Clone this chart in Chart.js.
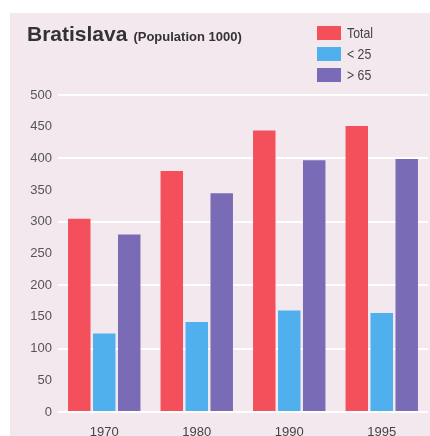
<!DOCTYPE html>
<html><head><meta charset="utf-8">
<script src="https://cdn.jsdelivr.net/npm/chart.js@4"></script>
<style>
html,body{margin:0;padding:0;background:#fff;}
#wrap{position:relative;width:430px;height:436px;overflow:hidden;}
#panel{position:absolute;left:10px;top:13px;width:420px;height:423px;background:#f4e8ef;}
#c{position:absolute;left:0;top:0;}
#title{position:absolute;left:27px;top:22px;font-family:"Liberation Sans",Arial,sans-serif;font-weight:bold;color:#333;white-space:nowrap;}
#title .big{font-size:21px;}
#title .small{font-size:13px;margin-left:6px;}
#legend{position:absolute;left:317px;top:26px;font-family:"Liberation Sans",Arial,sans-serif;font-size:15px;color:#444;}
.li{position:absolute;left:0;height:14px;white-space:nowrap;}
.li .box{position:absolute;left:0;top:0;width:24px;height:14px;}
.li .lbl{position:absolute;left:30px;top:-2px;line-height:17px;transform:scaleX(0.82);transform-origin:left center;}
</style></head>
<body>
<div id="wrap">
<div id="panel"></div>
<canvas id="c" width="430" height="436"></canvas>
<div id="title"><span class="big">Bratislava</span><span class="small">(Population 1000)</span></div>
<div id="legend"></div>
</div>
<script>
const categories = ['1970', '1980', '1990', '1995'];
const totalValues = [305, 380, 444, 451];
const under25Values = [124, 142, 160, 156];
const over65Values = [280, 345, 397, 399];
const seriesNames = ['Total', '< 25', '> 65'];
const seriesColors = ['#f4505c', '#50b0ee', '#7a6bb7'];

const tickFont = {family: '"Liberation Sans",Arial,sans-serif', size: 13};

const chart = new Chart(document.getElementById('c'), {
  type: 'bar',
  data: {
    labels: categories,
    datasets: [
      {label: seriesNames[0], data: totalValues, backgroundColor: seriesColors[0]},
      {label: seriesNames[1], data: under25Values, backgroundColor: seriesColors[1]},
      {label: seriesNames[2], data: over65Values, backgroundColor: seriesColors[2]}
    ]
  },
  options: {
    responsive: false,
    animation: false,
    barPercentage: 0.9,
    categoryPercentage: 0.81,
    layout: {padding: {top: 95, right: 2, left: 0, bottom: 0}},
    plugins: {legend: {display: false}, tooltip: {enabled: false}, title: {display: false}},
    scales: {
      x: {
        grid: {display: false},
        border: {display: false},
        ticks: {font: tickFont, color: '#444', padding: 5},
        afterFit: s => { s.height = 24; }
      },
      y: {
        min: 0, max: 500,
        ticks: {stepSize: 50, font: tickFont, color: '#555', padding: 6},
        border: {display: false},
        grid: {
          drawTicks: false,
          lineWidth: 2,
          color: ctx => (ctx.tick && ctx.tick.value % 100 === 0) ? '#ffffff' : 'rgba(0,0,0,0)'
        },
        afterFit: s => { s.width = 58; }
      }
    }
  }
});

const legend = document.getElementById('legend');
chart.data.datasets.forEach((ds, i) => {
  const row = document.createElement('div');
  row.className = 'li';
  row.style.top = (i * 21) + 'px';
  row.innerHTML = '<span class="box" style="background:' + ds.backgroundColor + '"></span><span class="lbl"></span>';
  row.querySelector('.lbl').textContent = ds.label;
  legend.appendChild(row);
});
</script>
</body></html>
